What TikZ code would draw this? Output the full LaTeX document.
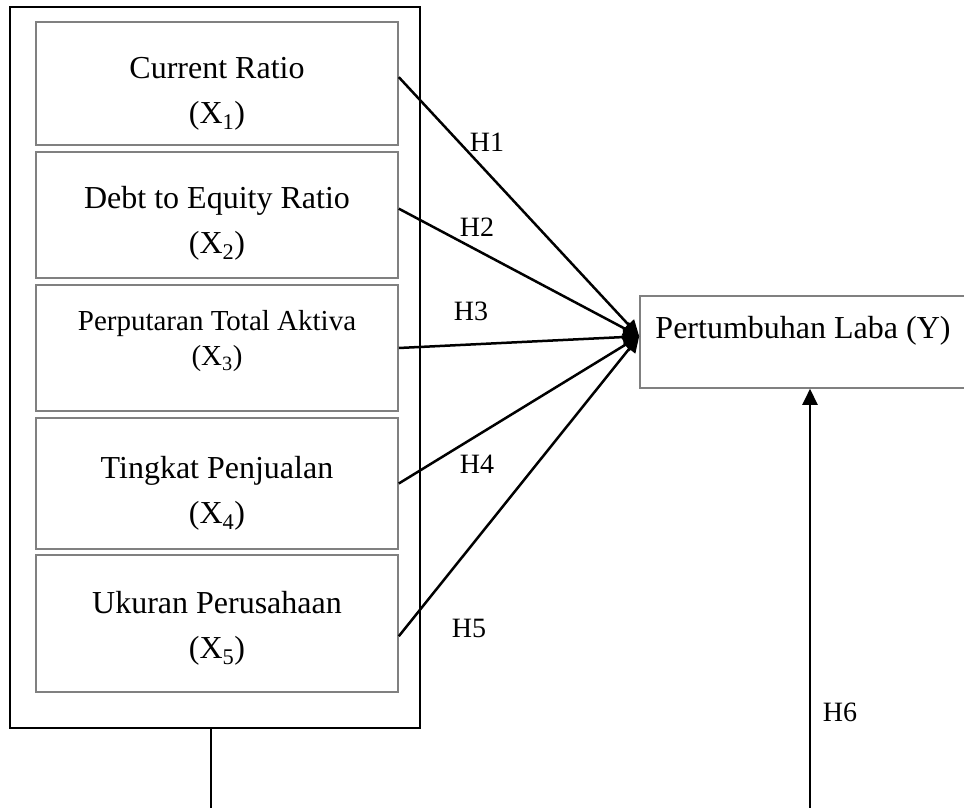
\documentclass[tikz,border=0pt]{standalone}
\usepackage{fontspec}
\setmainfont{Liberation Serif}
\usetikzlibrary{arrows.meta,positioning}
\tikzset{
  varbox/.style  ={rectangle,draw=gray,line width=1.6pt,minimum width=362pt,
                   align=center,font=\fontsize{32}{45}\selectfont},
  outerbox/.style={rectangle,draw,line width=2.5pt,minimum width=410pt,
                   minimum height=721pt},
  ybox/.style    ={rectangle,draw=gray,line width=1.6pt,minimum width=326pt,
                   minimum height=92pt,font=\fontsize{32}{45}\selectfont,
                   text height=23pt,text depth=31pt},
  hyp/.style     ={font=\fontsize{28}{34}\selectfont,inner sep=0pt},
  arr/.style     ={-{Triangle[length=16pt,width=15pt]},line width=2.5pt},
  link/.style    ={line width=2.5pt}
}

\begin{document}
\begin{tikzpicture}[x=1pt,y=-1pt]
  \useasboundingbox (0,0) rectangle (964,808);

  % Nodes
  \node (frame) [outerbox] at (215,367.5) {};
  \node (x1) [varbox, minimum height=123pt] at (217,83.5)
             {\rule{0pt}{42pt}Current Ratio\\(X\textsubscript{1})};
  \node (x2) [varbox, minimum height=126pt] at (217,215)
             {\rule{0pt}{38pt}Debt to Equity Ratio\\(X\textsubscript{2})};
  \node (x3) [varbox, minimum height=126pt, font=\fontsize{29}{35}\selectfont] at (217,348)
             {Perputaran Total Aktiva\\(X\textsubscript{3})\rule[-20pt]{0pt}{0pt}};
  \node (x4) [varbox, minimum height=131pt] at (217,483.5)
             {\rule{0pt}{42pt}Tingkat Penjualan\\(X\textsubscript{4})};
  \node (x5) [varbox, minimum height=137pt] at (217,623.5)
             {\rule{0pt}{32pt}Ukuran Perusahaan\\(X\textsubscript{5})};
  \node (y)  [ybox] at (803,342) {Pertumbuhan Laba (Y)};

  \node (h1) [hyp] at (487,142) {H1};
  \node (h2) [hyp] at (477,227) {H2};
  \node (h3) [hyp] at (471,311) {H3};
  \node (h4) [hyp] at (477,464) {H4};
  \node (h5) [hyp] at (469,628) {H5};
  \node (h6) [hyp] at (840,712) {H6};

  \coordinate (b1) at (211,810);
  \coordinate (b2) at (810,810);

  % Arrows
  \draw [arr] (x1.2)   -- (y.178);
  \draw [arr] (x2.2.2) -- (y.178);
  \draw [arr] (x3.east) -- (y.178);
  \draw [arr] (x4.east) -- (y.178);
  \draw [arr] (x5.-4.3) -- (y.178);
  \draw [link] (b1 |- frame.south) -- (b1);
  \draw [arr] (b2) -- (b2 |- y.south);
\end{tikzpicture}
\end{document}
